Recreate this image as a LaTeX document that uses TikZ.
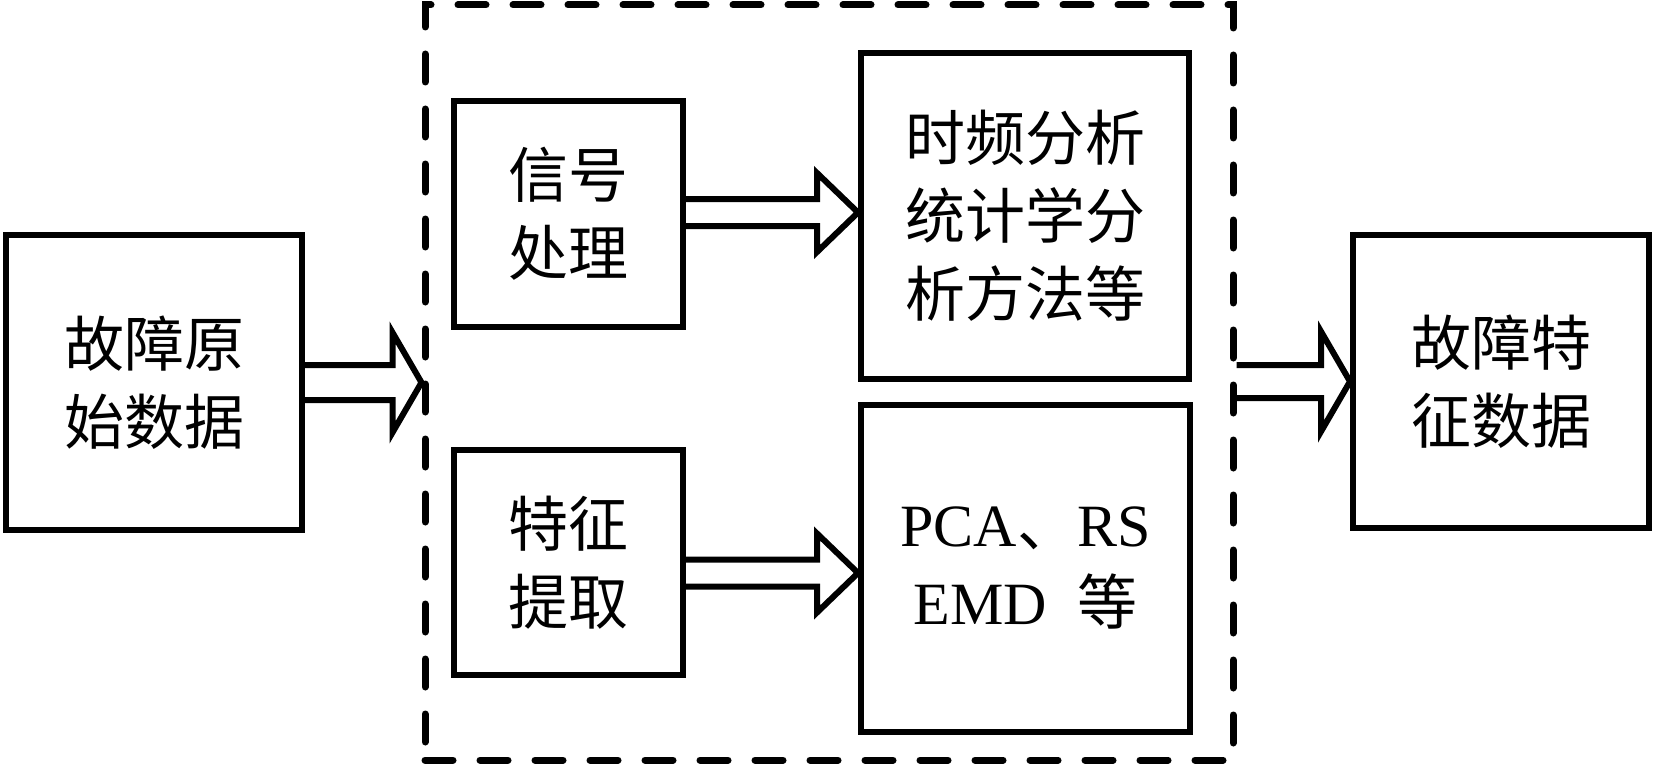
\documentclass[tikz,border=0pt]{standalone}
\usepackage{fontspec}
\setmainfont{Liberation Serif}
\newfontfamily\cjk{Noto Sans CJK SC}
\usetikzlibrary{calc}

\newcommand{\fatarrow}[5]{%
    \draw[arrowline] let \p1=#1, \p2=#2 in
        (\x1,\y2+#3) -- (\x2-#5,\y2+#3) -- (\x2-#5,\y2+#4) -- (\x2,\y2)
        -- (\x2-#5,\y2-#4) -- (\x2-#5,\y2-#3) -- (\x1,\y2-#3);}

\begin{document}
\begin{tikzpicture}[x=0.5pt, y=-0.5pt,
        box/.style={draw, line width=3pt, inner sep=0pt, align=center,
            font=\cjk\fontsize{30}{39}\selectfont},
        groupbox/.style={draw, line width=3.5pt, line cap=round, inner sep=0pt,
            dash pattern=on 14pt off 13.5pt},
        arrowline/.style={line width=3pt, miter limit=20}]
                \useasboundingbox (0,0) rectangle (1654,765);

                \node[groupbox, minimum width=404pt, minimum height=377.5pt] (proc) at (829,382.5) {};

                \node[box, minimum width=148pt, minimum height=147.5pt] (raw) at (154,382.5) {故障原\\始数据};
                \node[box, minimum width=114.5pt, minimum height=113pt] (sig) at (568.5,214) {信号\\处理};
                \node[box, minimum width=114.5pt, minimum height=112.5pt] (feat) at (568.5,562.5) {特征\\提取};
                \node[box, minimum width=164pt, minimum height=163pt] (tf) at (1025,216) {时频分析\\统计学分\\析方法等};
                \node[box, minimum width=164.5pt, minimum height=163.5pt] (pca) at (1025.5,568) {{\rmfamily PCA}、{\rmfamily RS}\\{\rmfamily EMD}\hspace{15pt}等};
                \node[box, minimum width=148pt, minimum height=146.5pt] (out) at (1501,381.5) {故障特\\征数据};

                \fatarrow{(raw.east)}{(proc.west)}{8.75pt}{25pt}{14.5pt}
                \fatarrow{(sig.east)}{($(tf.west)+(0,-3.5)$)}{6.75pt}{19.75pt}{20.5pt}
                \fatarrow{(feat.east)}{($(pca.west)+(0,5)$)}{6.75pt}{19.75pt}{20.5pt}
                \fatarrow{(proc.east)}{(out.west)}{8.25pt}{25pt}{14.5pt}
\end{tikzpicture}
\end{document}
